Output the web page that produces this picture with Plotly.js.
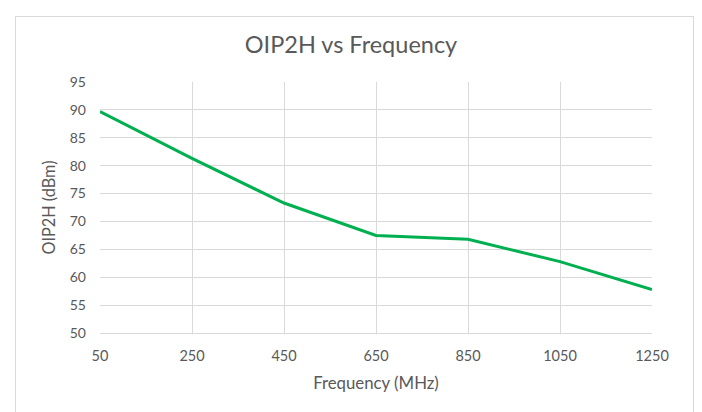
<!DOCTYPE html>
<html>
<head>
<meta charset="utf-8">
<script src="https://cdn.plot.ly/plotly-3.0.1.min.js"></script>
<style>
  html, body { margin: 0; padding: 0; background: #ffffff; }
  #wrap { position: relative; width: 702px; height: 412px; overflow: hidden; }
  #frame { position: absolute; left: 15px; top: 16px; width: 679px; height: 420px; border: 1px solid #d9d9d9; box-sizing: border-box; pointer-events: none; }
  #chart { position: absolute; left: 0; top: 0; width: 702px; height: 412px; }
</style>
</head>
<body>
<div id="wrap">
  <div id="chart"></div>
  <div id="frame"></div>
</div>
<script>
const frequencies = [50, 250, 450, 650, 850, 1050, 1250];
const oip2h = [89.7, 81.3, 73.3, 67.5, 66.8, 62.8, 57.8];
const xTicks = [50, 250, 450, 650, 850, 1050, 1250];
const yTicks = [50, 55, 60, 65, 70, 75, 80, 85, 90, 95];

const fontFamily = "Lato, 'Open Sans', sans-serif";
const textColor = "#595959";

Plotly.newPlot("chart", [{
  x: frequencies,
  y: oip2h,
  type: "scatter",
  mode: "lines",
  line: { color: "#00B050", width: 3 },
  hoverinfo: "skip",
  showlegend: false
}], {
  width: 702,
  height: 412,
  paper_bgcolor: "#ffffff",
  plot_bgcolor: "#ffffff",
  margin: { l: 99.5, r: 50, t: 82, b: 79 },
  font: { family: fontFamily, color: textColor, size: 14 },
  title: {
    text: "OIP2H vs Frequency",
    font: { family: fontFamily, size: 23.5, color: textColor },
    x: 0.5, xanchor: "center",
    y: 1 - 45 / 412, yanchor: "middle", yref: "container"
  },
  xaxis: {
    range: [50, 1250],
    tickvals: xTicks,
    ticktext: xTicks.map(String),
    showgrid: true,
    gridcolor: "#d9d9d9",
    gridwidth: 1,
    zeroline: false,
    showline: true,
    linecolor: "#d9d9d9",
    linewidth: 1,
    ticks: "",
    ticklabelstandoff: 10,
    tickfont: { family: fontFamily, size: 14.5, color: textColor },
    title: { text: "Frequency (MHz)", font: { family: fontFamily, size: 16.8, color: textColor }, standoff: 13 }
  },
  yaxis: {
    range: [50, 95],
    tickvals: yTicks,
    ticktext: yTicks.map(String),
    showgrid: true,
    gridcolor: "#d9d9d9",
    gridwidth: 1,
    zeroline: false,
    showline: false,
    ticks: "",
    ticklabelstandoff: 13,
    tickfont: { family: fontFamily, size: 14, color: textColor },
    title: { text: "OIP2H (dBm)", font: { family: fontFamily, size: 16.3, color: textColor }, standoff: 10 }
  }
}, { displayModeBar: false, staticPlot: true });
</script>
</body>
</html>
